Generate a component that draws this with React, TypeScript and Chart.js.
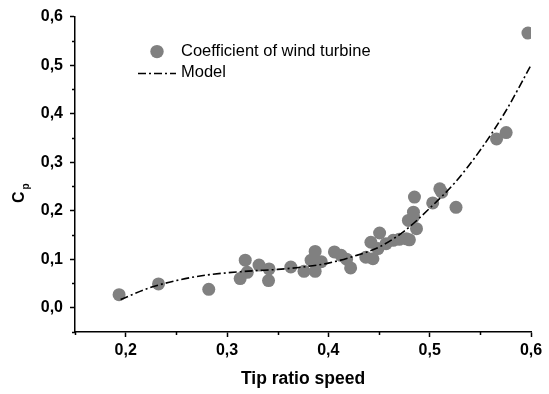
import React, { useEffect, useRef } from "react";
import { Chart, registerables } from "chart.js";

Chart.register(...registerables);

// Measured power coefficient against tip speed ratio
const tipSpeed = [
  0.1935, 0.2324, 0.282, 0.313, 0.318, 0.32, 0.3316, 0.3415, 0.341, 0.363,
  0.376, 0.383, 0.387, 0.387, 0.393, 0.406, 0.4126, 0.418, 0.422, 0.437,
  0.442, 0.444, 0.449, 0.4506, 0.457, 0.464, 0.47, 0.477, 0.48, 0.479,
  0.484, 0.485, 0.487, 0.484, 0.503, 0.51, 0.512, 0.526, 0.566, 0.5755, 0.597,
];
const cpMeasured = [
  0.027, 0.049, 0.038, 0.06, 0.098, 0.073, 0.088, 0.08, 0.056, 0.084,
  0.075, 0.098, 0.116, 0.075, 0.095, 0.115, 0.108, 0.1, 0.082, 0.104,
  0.135, 0.101, 0.122, 0.154, 0.132, 0.139, 0.141, 0.142, 0.14, 0.18,
  0.197, 0.228, 0.163, 0.187, 0.216, 0.245, 0.238, 0.207, 0.348, 0.361, 0.566,
];

// Fitted model curve
const modelSpeed = [
  0.195, 0.225, 0.25, 0.275, 0.3, 0.325, 0.35, 0.375, 0.4, 0.425, 0.45,
  0.475, 0.5, 0.525, 0.55, 0.575, 0.6,
];
const modelCp = [
  0.017, 0.042, 0.056, 0.066, 0.072, 0.076, 0.079, 0.084, 0.092, 0.106, 0.125,
  0.158, 0.205, 0.258, 0.325, 0.405, 0.5,
];

const xTicks = [0.2, 0.3, 0.4, 0.5, 0.6];
const yTicks = [0, 0.1, 0.2, 0.3, 0.4, 0.5, 0.6];
const xMinorTicks = [0.15, 0.25, 0.35, 0.45, 0.55];
const yMinorTicks = [-0.05, 0.05, 0.15, 0.25, 0.35, 0.45, 0.55];

const xTitle = "Tip ratio speed";
const yTitleMain = "C";
const yTitleSub = "p";
const seriesLabels = ["Coefficient of wind turbine", "Model"];

const FONT = "'Liberation Sans', Arial, Helvetica, sans-serif";
const POINT_COLOR = "#808080";
const MODEL_DASH = [8, 3, 2, 3];

const fmt = (v: number) => Number(v).toFixed(1).replace(".", ",");

// Minor ticks, y-axis title with subscript and the in-plot legend
const decorations = {
  id: "decorations",
  afterDraw(chart: any) {
    const { ctx, chartArea, scales } = chart;
    const xs = scales.x;
    const ys = scales.y;
    ctx.save();
    ctx.strokeStyle = "#000";
    ctx.lineWidth = 1.5;
    ctx.beginPath();
    xMinorTicks.forEach((v) => {
      const px = Math.round(xs.getPixelForValue(v)) + 0.5;
      ctx.moveTo(px, chartArea.bottom);
      ctx.lineTo(px, chartArea.bottom + 3);
    });
    yMinorTicks.forEach((v) => {
      const py = Math.round(ys.getPixelForValue(v)) + 0.5;
      ctx.moveTo(chartArea.left, py);
      ctx.lineTo(chartArea.left - 3, py);
    });
    ctx.stroke();

    // y title: C with subscript p, rotated
    const midY = (chartArea.top + chartArea.bottom) / 2 + 20;
    ctx.translate(24, midY);
    ctx.rotate(-Math.PI / 2);
    ctx.fillStyle = "#000";
    ctx.textBaseline = "alphabetic";
    ctx.textAlign = "left";
    ctx.font = `bold 16px ${FONT}`;
    const cw = ctx.measureText(yTitleMain).width;
    ctx.fillText(yTitleMain, -cw / 2 - 3, 0);
    ctx.font = `bold 10px ${FONT}`;
    ctx.fillText(yTitleSub, cw / 2 - 1, 5);
    ctx.restore();

    // legend
    ctx.save();
    const lx = chartArea.left + 82;
    const row1 = chartArea.top + 35;
    const row2 = chartArea.top + 56;
    ctx.fillStyle = POINT_COLOR;
    ctx.beginPath();
    ctx.arc(lx, row1, 6.7, 0, Math.PI * 2);
    ctx.fill();
    ctx.strokeStyle = "#000";
    ctx.lineWidth = 1.5;
    ctx.setLineDash(MODEL_DASH);
    ctx.beginPath();
    ctx.moveTo(lx - 19, row2 + 1);
    ctx.lineTo(lx + 19, row2 + 1);
    ctx.stroke();
    ctx.setLineDash([]);
    ctx.fillStyle = "#000";
    ctx.font = `16.5px ${FONT}`;
    ctx.textBaseline = "middle";
    ctx.textAlign = "left";
    ctx.fillText(seriesLabels[0], lx + 24, row1);
    ctx.fillText(seriesLabels[1], lx + 24, row2);
    ctx.restore();
  },
};

export default function App() {
  const canvasRef = useRef<HTMLCanvasElement | null>(null);

  useEffect(() => {
    if (!canvasRef.current) return;
    const chart = new Chart(canvasRef.current, {
      type: "scatter",
      data: {
        datasets: [
          {
            type: "line",
            label: seriesLabels[1],
            data: modelSpeed.map((x, i) => ({ x, y: modelCp[i] })),
            borderColor: "#000",
            borderWidth: 1.6,
            borderDash: MODEL_DASH,
            pointRadius: 0,
            fill: false,
            cubicInterpolationMode: "monotone",
          } as any,
          {
            type: "scatter",
            label: seriesLabels[0],
            data: tipSpeed.map((x, i) => ({ x, y: cpMeasured[i] })),
            backgroundColor: POINT_COLOR,
            borderWidth: 0,
            pointRadius: 6.5,
            clip: 0,
          } as any,
        ],
      },
      options: {
        responsive: false,
        animation: false,
        layout: { padding: { top: 14, right: 18, bottom: 0, left: 0 } },
        plugins: {
          legend: { display: false },
          tooltip: { enabled: false },
        },
        scales: {
          x: {
            type: "linear",
            min: 0.15,
            max: 0.6,
            afterBuildTicks: (s: any) => {
              s.ticks = xTicks.map((value) => ({ value }));
            },
            afterFit: (s: any) => {
              s.height = 62;
            },
            border: { display: true, color: "#000", width: 1.5 },
            grid: {
              display: true,
              drawOnChartArea: false,
              drawTicks: true,
              tickLength: 5,
              tickColor: "#000",
              tickWidth: 1.5,
            },
            ticks: {
              color: "#000",
              padding: 4,
              font: { family: FONT, size: 16, weight: "bold" },
              maxRotation: 0,
              callback: (v: any) => fmt(v),
            },
            title: {
              display: true,
              text: xTitle,
              color: "#000",
              font: { family: FONT, size: 17.5, weight: "bold" },
              padding: { top: 0, bottom: 4 },
            },
          },
          y: {
            type: "linear",
            min: -0.05,
            max: 0.6,
            afterBuildTicks: (s: any) => {
              s.ticks = yTicks.map((value) => ({ value }));
            },
            afterFit: (s: any) => {
              s.width = 75;
            },
            border: { display: true, color: "#000", width: 1.5 },
            grid: {
              display: true,
              drawOnChartArea: false,
              drawTicks: true,
              tickLength: 5,
              tickColor: "#000",
              tickWidth: 1.5,
            },
            ticks: {
              color: "#000",
              padding: 7,
              font: { family: FONT, size: 16, weight: "bold" },
              callback: (v: any) => fmt(v),
            },
          },
        },
      },
      plugins: [decorations],
    } as any);
    return () => chart.destroy();
  }, []);

  return (
    <div style={{ position: "fixed", left: 0, top: 0, width: 549, height: 394, background: "#fff" }}>
      <canvas ref={canvasRef} width={549} height={394} />
    </div>
  );
}
